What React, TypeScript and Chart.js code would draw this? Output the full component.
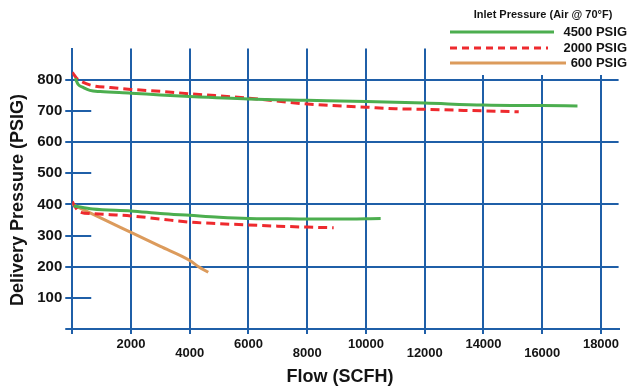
import React, { useEffect, useRef } from 'react';
import { Chart, registerables } from 'chart.js';

Chart.register(...registerables);

// ---- Data ----
const upper4500Flow = [100, 200, 380, 600, 950, 2000, 3000, 4000, 6000, 8000, 10000, 12000, 14000, 16000, 17200];
const upper4500Pressure = [805, 785, 775, 766, 762, 757, 751, 746, 738, 734, 730, 725, 719, 717, 716];

const upper2000Flow = [0, 150, 260, 700, 1300, 2000, 3000, 4000, 6000, 8000, 10000, 11000, 12000, 14000, 15200];
const upper2000Pressure = [824, 805, 797, 781, 775, 769, 763, 755, 741, 722, 712, 707, 705, 700, 697];

const lower4500Flow = [50, 700, 2000, 3000, 4000, 5000, 6000, 7000, 8000, 9000, 10500];
const lower4500Pressure = [395, 385, 379, 371, 365, 359, 355, 354, 353, 353, 355];

const lower2000Flow = [0, 100, 250, 700, 1300, 2000, 3000, 4000, 5000, 6000, 7000, 8000, 8900];
const lower2000Pressure = [409, 392, 376, 370, 367, 363, 353, 343, 338, 334, 330, 327, 325];

const flow600 = [0, 1000, 2000, 3000, 4000, 4300, 4630];
const pressure600 = [400, 355, 310, 265, 220, 200, 182];

const seriesLabels = ['4500 PSIG', '2000 PSIG', '600 PSIG'];
const legendTitle = 'Inlet Pressure (Air @ 70°F)';
const xAxisTitle = 'Flow (SCFH)';
const yAxisTitle = 'Delivery Pressure (PSIG)';

const xTickValues = [0, 2000, 4000, 6000, 8000, 10000, 12000, 14000, 16000, 18000];
const yTickValues = [0, 100, 200, 300, 400, 500, 600, 700, 800, 900];
const yMajorValues = [0, 200, 400, 600, 800];
const yMinorValues = [100, 300, 500, 700];
const yLabelValues = [100, 200, 300, 400, 500, 600, 700, 800];
const xMin = 0;
const xMax = 18600;
const yMin = 0;
const yMax = 900;

// ---- Styles ----
const BLUE = '#1f5fa8';
const GREEN = '#4cae4f';
const RED = '#ee2a2e';
const ORANGE = '#dc9b5c';
const TEXT = '#141414';
const FONT = "'Liberation Sans', Arial, Helvetica, sans-serif";
const DASH = [9, 5];

const toPoints = (xs: number[], ys: number[]) => xs.map((x, i) => ({ x, y: ys[i] }));

const seriesStyle = [
  { color: GREEN, dash: [] as number[] },
  { color: RED, dash: DASH },
  { color: ORANGE, dash: [] as number[] },
];

const decorPlugin = {
  id: 'decor',
  beforeDatasetsDraw(chart: any) {
    const { ctx, chartArea } = chart;
    const y = chart.scales.y;
    ctx.save();
    ctx.strokeStyle = BLUE;
    ctx.lineWidth = 2;
    for (const v of yMinorValues) {
      const py = Math.round(y.getPixelForValue(v));
      ctx.beginPath();
      ctx.moveTo(chartArea.left, py);
      ctx.lineTo(chartArea.left + 19, py);
      ctx.stroke();
    }
    ctx.restore();
  },
  afterDraw(chart: any) {
    const { ctx } = chart;
    ctx.save();
    ctx.fillStyle = '#ffffff';
    ctx.fillRect(440, 0, 188, 75);

    ctx.fillStyle = TEXT;
    ctx.font = `bold 11px ${FONT}`;
    ctx.textAlign = 'center';
    ctx.textBaseline = 'middle';
    ctx.fillText(legendTitle, 543, 15);

    const rows = [32, 48, 63];
    const lineEnds = [554, 548, 566];
    ctx.font = `bold 13px ${FONT}`;
    ctx.textAlign = 'right';
    seriesLabels.forEach((label, i) => {
      ctx.strokeStyle = seriesStyle[i].color;
      ctx.lineWidth = 3;
      ctx.setLineDash(seriesStyle[i].dash.length ? [7, 5] : []);
      ctx.beginPath();
      ctx.moveTo(450, rows[i]);
      ctx.lineTo(lineEnds[i], rows[i]);
      ctx.stroke();
      ctx.setLineDash([]);
      ctx.fillStyle = TEXT;
      ctx.fillText(label, 627, rows[i] + 0.5);
    });

    ctx.font = `bold 18px ${FONT}`;
    ctx.textAlign = 'center';
    ctx.textBaseline = 'middle';
    ctx.fillStyle = TEXT;
    ctx.fillText(xAxisTitle, 340, 377);
    ctx.translate(18, 200);
    ctx.rotate(-Math.PI / 2);
    ctx.fillText(yAxisTitle, 0, 0);
    ctx.restore();
  },
};

export default function App() {
  const canvasRef = useRef<HTMLCanvasElement | null>(null);

  useEffect(() => {
    const canvas = canvasRef.current;
    if (!canvas) return;

    const mk = (label: string, xs: number[], ys: number[], idx: number) => ({
      label,
      data: toPoints(xs, ys),
      borderColor: seriesStyle[idx].color,
      backgroundColor: seriesStyle[idx].color,
      borderWidth: 3,
      borderDash: seriesStyle[idx].dash,
      pointRadius: 0,
      fill: false,
      tension: 0.4,
      cubicInterpolationMode: 'monotone' as const,
    });

    const chart = new Chart(canvas, {
      type: 'line',
      data: {
        datasets: [
          mk(seriesLabels[0], upper4500Flow, upper4500Pressure, 0),
          mk(seriesLabels[1], upper2000Flow, upper2000Pressure, 1),
          mk(seriesLabels[0], lower4500Flow, lower4500Pressure, 0),
          mk(seriesLabels[1], lower2000Flow, lower2000Pressure, 1),
          mk(seriesLabels[2], flow600, pressure600, 2),
        ],
      },
      options: {
        responsive: false,
        animation: false,
        layout: { padding: { left: 0, right: 9.4, top: 48.6, bottom: 0 } },
        plugins: {
          legend: { display: false },
          tooltip: { enabled: false },
          title: { display: false },
        },
        scales: {
          x: {
            type: 'linear',
            min: xMin,
            max: xMax,
            afterBuildTicks: (s: any) => {
              s.ticks = xTickValues.map((value) => ({ value }));
            },
            afterFit: (s: any) => {
              s.height = 59;
              s.paddingLeft = 0;
              s.paddingRight = 0;
            },
            ticks: {
              autoSkip: false,
              maxRotation: 0,
              minRotation: 0,
              padding: 6,
              color: TEXT,
              font: { family: FONT, size: 13, weight: 'bold', lineHeight: 0.7 },
              callback: (value: any) => {
                const v = Number(value);
                if (v === 0) return '';
                const idx = xTickValues.indexOf(v);
                return idx % 2 === 1 ? [String(v)] : ['', String(v)];
              },
            },
            grid: {
              color: BLUE,
              lineWidth: 2,
              tickLength: 5,
              tickColor: BLUE,
            },
            border: { color: BLUE, width: 2 },
          },
          y: {
            type: 'linear',
            min: yMin,
            max: yMax,
            afterBuildTicks: (s: any) => {
              s.ticks = yTickValues.map((value) => ({ value }));
            },
            afterFit: (s: any) => {
              s.width = 72.25;
              s.paddingTop = 0;
              s.paddingBottom = 0;
            },
            ticks: {
              padding: 3,
              autoSkip: false,
              color: TEXT,
              font: { family: FONT, size: 15, weight: 'bold' },
              callback: (value: any) => {
                const v = Number(value);
                return yLabelValues.includes(v) ? String(v) : '';
              },
            },
            grid: {
              color: (c: any) => (c.tick && yMajorValues.includes(c.tick.value) ? BLUE : 'rgba(0,0,0,0)'),
              tickColor: (c: any) => (c.tick && c.tick.value <= 800 ? BLUE : 'rgba(0,0,0,0)'),
              lineWidth: 2,
              tickLength: 7,
            },
            border: { color: BLUE, width: 2 },
          },
        },
      },
      plugins: [decorPlugin],
    } as any);

    return () => {
      chart.destroy();
    };
  }, []);

  return (
    <div style={{ position: 'fixed', left: 0, top: 0, width: 628, height: 388, background: '#fff' }}>
      <canvas ref={canvasRef} width={628} height={388} style={{ display: 'block', width: 628, height: 388 }} />
    </div>
  );
}
